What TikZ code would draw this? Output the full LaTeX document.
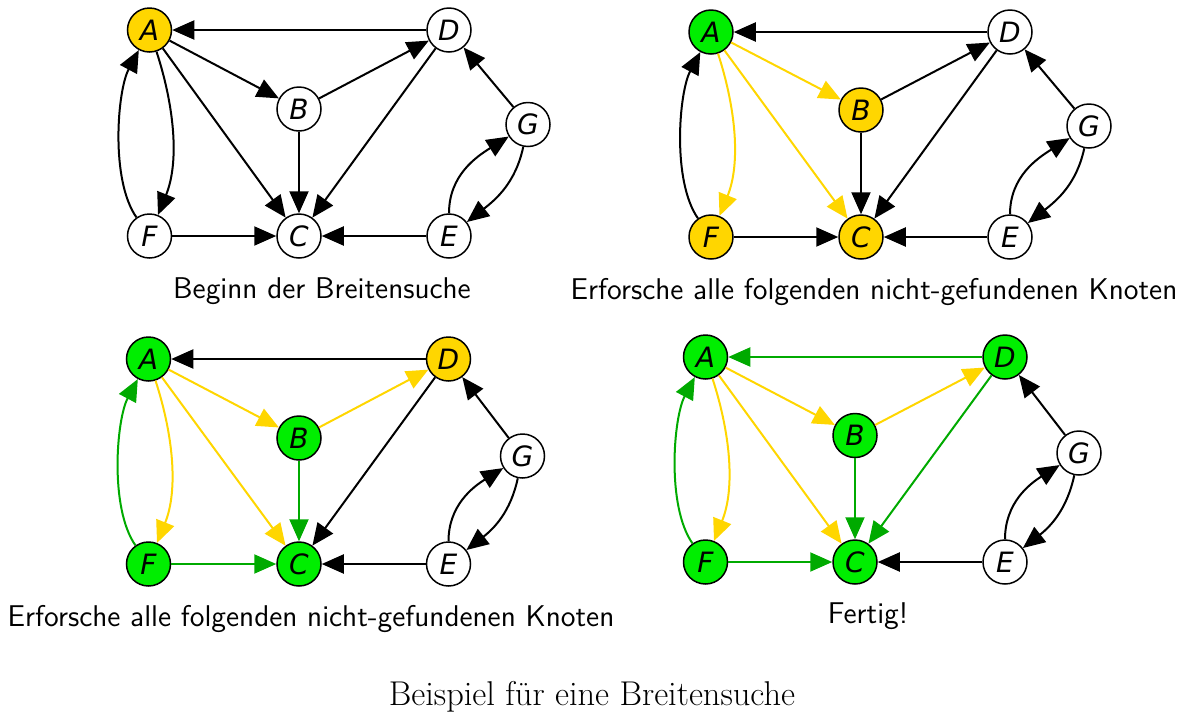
\documentclass[tikz,border=0pt]{standalone}
\usepackage{fontspec}
\newfontfamily\nodefont{DejaVu Sans}
\usetikzlibrary{arrows.meta}
\definecolor{ylw}{RGB}{255,214,0}
\definecolor{grnfill}{RGB}{0,238,0}
\definecolor{grnedge}{RGB}{0,170,0}
\tikzset{
  vtx/.style={circle,draw=black,line width=0.75pt,fill=white,minimum size=22pt,inner sep=0pt,
    font=\nodefont\itshape\fontsize{14}{14}\selectfont},
  yv/.style={vtx,fill=ylw},
  gv/.style={vtx,fill=grnfill},
  edge/.style={draw=black,line width=1pt,-{Triangle[length=11pt,width=9.5pt]}},
  ye/.style={edge,draw=ylw,-{Triangle[length=11pt,width=9.5pt,fill=ylw]}},
  ge/.style={edge,draw=grnedge,-{Triangle[length=11pt,width=9.5pt,fill=grnedge]}},
  caption/.style={anchor=base,inner sep=0pt,font=\sffamily\fontsize{15}{18}\selectfont},
  maincap/.style={anchor=base,inner sep=0pt,font=\rmfamily\fontsize{17.2}{20}\selectfont}
}
\begin{document}
\begin{tikzpicture}[x=0.5pt,y=-0.5pt]
\useasboundingbox (0,0) rectangle (1185,713);
% ---------- Panel 1 ----------
\node[yv]  (a1) at (149.5,30) {A};
\node[vtx] (d1) at (449,30) {D};
\node[vtx] (b1) at (299,109) {B};
\node[vtx] (g1) at (528,124.5) {G};
\node[vtx] (f1) at (149.5,236) {F};
\node[vtx] (c1) at (299,236) {C};
\node[vtx] (e1) at (449,236) {E};
\draw[edge] (d1) -- (a1);
\draw[edge] (a1) -- (b1);
\draw[edge] (a1) -- (c1);
\draw[edge] (a1) to[out=-72,in=68,looseness=0.9] (f1);
\draw[edge] (f1) to[out=125,in=-118,looseness=0.7] (a1);
\draw[edge] (b1) -- (d1);
\draw[edge] (b1) -- (c1);
\draw[edge] (d1) -- (c1);
\draw[edge] (f1) -- (c1);
\draw[edge] (e1) -- (c1);
\draw[edge] (g1) -- (d1);
\draw[edge] (e1) to[out=90,in=212] (g1);
\draw[edge] (g1) to[out=-102,in=38] (e1);
\node[caption] (cap1) at (322,298) {Beginn der Breitensuche};
% ---------- Panel 2 ----------
\node[gv]  (a2) at (711,32) {A};
\node[vtx] (d2) at (1010,32) {D};
\node[yv]  (b2) at (861,110) {B};
\node[vtx] (g2) at (1089,126) {G};
\node[yv]  (f2) at (711,237) {F};
\node[yv]  (c2) at (861,237) {C};
\node[vtx] (e2) at (1010,237) {E};
\draw[edge] (d2) -- (a2);
\draw[ye] (a2) -- (b2);
\draw[ye] (a2) -- (c2);
\draw[ye] (a2) to[out=-72,in=68,looseness=0.9] (f2);
\draw[edge] (f2) to[out=125,in=-118,looseness=0.7] (a2);
\draw[edge] (b2) -- (d2);
\draw[edge] (b2) -- (c2);
\draw[edge] (d2) -- (c2);
\draw[edge] (f2) -- (c2);
\draw[edge] (e2) -- (c2);
\draw[edge] (g2) -- (d2);
\draw[edge] (e2) to[out=90,in=212] (g2);
\draw[edge] (g2) to[out=-102,in=38] (e2);
\node[caption] (cap2) at (874,299) {Erforsche alle folgenden nicht-gefundenen Knoten};
% ---------- Panel 3 ----------
\node[gv]  (a3) at (148.5,359) {A};
\node[yv]  (d3) at (448.5,359) {D};
\node[gv]  (b3) at (299,438) {B};
\node[vtx] (g3) at (522.5,456) {G};
\node[gv]  (f3) at (148.5,564) {F};
\node[gv]  (c3) at (299,564) {C};
\node[vtx] (e3) at (448.5,564) {E};
\draw[edge] (d3) -- (a3);
\draw[ye] (a3) -- (b3);
\draw[ye] (a3) -- (c3);
\draw[ye] (a3) to[out=-72,in=68,looseness=0.9] (f3);
\draw[ge] (f3) to[out=125,in=-118,looseness=0.7] (a3);
\draw[ye] (b3) -- (d3);
\draw[ge] (b3) -- (c3);
\draw[edge] (d3) -- (c3);
\draw[ge] (f3) -- (c3);
\draw[edge] (e3) -- (c3);
\draw[edge] (g3) -- (d3);
\draw[edge] (e3) to[out=90,in=212] (g3);
\draw[edge] (g3) to[out=-102,in=38] (e3);
\node[caption] (cap3) at (311,626) {Erforsche alle folgenden nicht-gefundenen Knoten};
% ---------- Panel 4 ----------
\node[gv]  (a4) at (705.5,357) {A};
\node[gv]  (d4) at (1005,357) {D};
\node[gv]  (b4) at (855,435.5) {B};
\node[vtx] (g4) at (1079,453) {G};
\node[gv]  (f4) at (705.5,562) {F};
\node[gv]  (c4) at (855,562) {C};
\node[vtx] (e4) at (1005,562) {E};
\draw[ge] (d4) -- (a4);
\draw[ye] (a4) -- (b4);
\draw[ye] (a4) -- (c4);
\draw[ye] (a4) to[out=-72,in=68,looseness=0.9] (f4);
\draw[ge] (f4) to[out=125,in=-118,looseness=0.7] (a4);
\draw[ye] (b4) -- (d4);
\draw[ge] (b4) -- (c4);
\draw[ge] (d4) -- (c4);
\draw[ge] (f4) -- (c4);
\draw[edge] (e4) -- (c4);
\draw[edge] (g4) -- (d4);
\draw[edge] (e4) to[out=90,in=212] (g4);
\draw[edge] (g4) to[out=-102,in=38] (e4);
\node[caption] (cap4) at (868,623) {Fertig!};
% ---------- main caption ----------
\node[maincap] (title) at (592,705) {Beispiel für eine Breitensuche};
\end{tikzpicture}
\end{document}
